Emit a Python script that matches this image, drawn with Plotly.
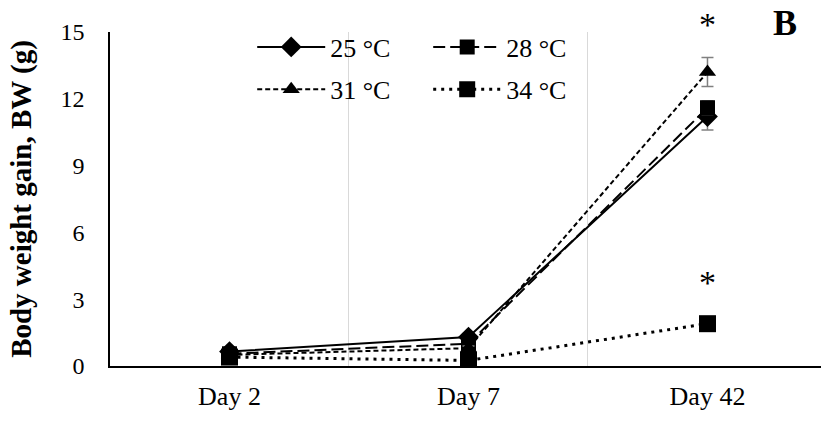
import plotly.graph_objects as go

# Body weight gain by sampling day for each rearing temperature
days = ["Day 2", "Day 7", "Day 42"]
bw_25 = [0.65, 1.3, 11.2]
bw_28 = [0.55, 1.0, 11.6]
bw_31 = [0.5, 0.8, 13.2]
bw_34 = [0.4, 0.25, 1.9]
err_25 = [0.05, 0.1, 0.6]
err_28 = [0.05, 0.1, 0.3]
err_31 = [0.05, 0.1, 0.65]
err_34 = [0.05, 0.05, 0.2]

series = [
    ("25 °C", bw_25, err_25, "solid", 2, "diamond", 16, "legend"),
    ("28 °C", bw_28, err_28, "12px,5px", 2, "square", 15, "legend"),
    ("31 °C", bw_31, err_31, "5px,3px", 2, "triangle-up", 15, "legend2"),
    ("34 °C", bw_34, err_34, "3px,5px", 3, "square", 17, "legend2"),
]

# significance marks above selected day-42 means
star_y = [15.5, 3.95]
y_max = 15

FONT = "Liberation Serif, Times New Roman, serif"

fig = go.Figure()
for name, vals, errs, dash, lw, sym, size, leg in series:
    fig.add_trace(go.Scatter(
        x=days, y=vals, name=name, mode="lines+markers",
        line=dict(color="black", width=lw, dash=dash),
        marker=dict(symbol=sym, size=size, color="black"),
        error_y=dict(type="data", array=errs, color="#808080",
                     thickness=1.5, width=6),
        legend=leg,
    ))

for yv in star_y:
    fig.add_annotation(x="Day 42", y=yv / y_max, text="*", showarrow=False,
                       font=dict(family=FONT, size=34, color="black"),
                       xref="x", yref="y domain", yanchor="middle", yshift=-4)

# panel letter, positioned in paper coordinates
fig.add_annotation(x=(785 - 110) / 711, y=1 + (32 - 23) / 334,
                   xref="paper", yref="paper",
                   xanchor="center", yanchor="middle",
                   text="<b>B</b>", showarrow=False,
                   font=dict(family=FONT, size=36, color="black"))

legend_style = dict(orientation="h", xanchor="left", yanchor="middle",
                    font=dict(family=FONT, size=26, color="black"),
                    bgcolor="rgba(0,0,0,0)", entrywidth=93,
                    entrywidthmode="pixels", itemwidth=68)

fig.update_layout(
    width=821, height=421,
    margin=dict(l=110, r=0, t=32, b=55),
    paper_bgcolor="white", plot_bgcolor="white",
    font=dict(family=FONT, size=22, color="black"),
    showlegend=True,
    legend=dict(x=0.2, y=0.955, **legend_style),
    legend2=dict(x=0.2, y=0.828, **legend_style),
    xaxis=dict(
        type="category", range=[-0.5, 2.475],
        tickson="boundaries", ticks="", showgrid=True,
        gridcolor="#d9d9d9", gridwidth=1,
        showline=True, linecolor="black", linewidth=1.5,
        tickfont=dict(family=FONT, size=26), ticklabelstandoff=6,
    ),
    yaxis=dict(
        range=[0, y_max], tickvals=[0, 3, 6, 9, 12, 15],
        showgrid=False, zeroline=False, ticks="",
        showline=True, linecolor="black", linewidth=1.5,
        tickfont=dict(family=FONT, size=24), ticklabelstandoff=19,
        title=dict(text="<b>Body weight gain, BW (g)</b>",
                   font=dict(family=FONT, size=29), standoff=20),
    ),
)

fig.write_html("out.html")
